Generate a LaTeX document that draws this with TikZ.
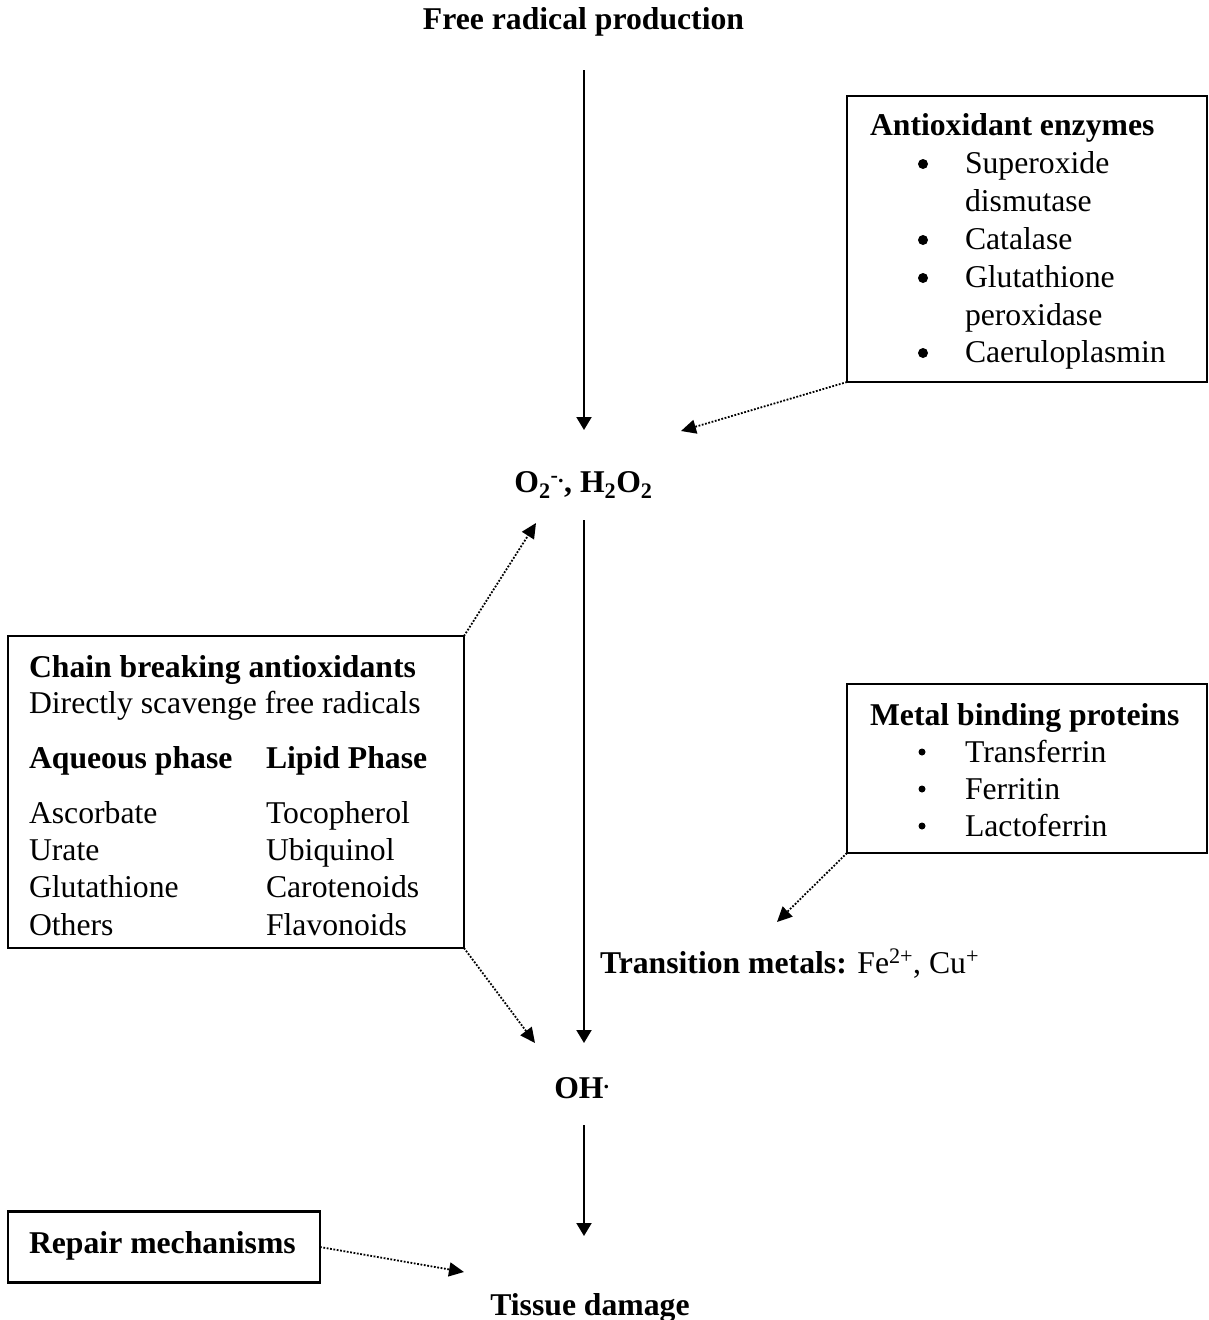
\documentclass[tikz,border=0pt]{standalone}
\usepackage{fontspec}
\setmainfont{Liberation Serif}
\usetikzlibrary{arrows.meta}
\newcommand\figfs{\fontsize{31.7}{37}\selectfont}
\tikzset{
  lbl/.style={inner sep=0pt, outer sep=0pt, font=\figfs, text height=22pt, text depth=7pt},
  boxnode/.style={draw, line width=2.4pt, inner sep=0pt, outer sep=0pt},
  solidarr/.style={line width=2pt, -{Triangle[length=13pt,width=15pt]}},
  dotarr/.style={line width=1.8pt, dash pattern=on 1.8pt off 1.6pt, -{Triangle[length=15pt,width=14pt]}},
  bul/.style={circle, fill, inner sep=0pt, outer sep=0pt}
}
\begin{document}
\begin{tikzpicture}[x=1pt,y=-1pt]
\useasboundingbox (0,0) rectangle (1209,1320);

% main chain labels
\node[lbl, anchor=base] (free) at (583.5,29) {\textbf{Free radical production}};
\node[lbl, anchor=base] (o2) at (583.5,492) {\textbf{O\textsubscript{2}\textsuperscript{-.}, H\textsubscript{2}O\textsubscript{2}}};
\node[lbl, anchor=base] (oh) at (582,1098) {\textbf{OH\textsuperscript{.}}};
\node[lbl, anchor=base] (tissue) at (590,1315) {\textbf{Tissue damage}};
\node[lbl, anchor=base west] (trans) at (600,973) {\textbf{Transition metals:} Fe\textsuperscript{2+}, Cu\textsuperscript{+}};

% main arrows
\draw[solidarr, shorten <=34pt, shorten >=40pt] (free.south -| 584,0) -- (o2.north -| 584,0);
\draw[solidarr, shorten <=21pt, shorten >=33pt] (o2.south -| 584,0) -- (oh.north -| 584,0);
\draw[solidarr, shorten <=20pt, shorten >=57pt] (oh.south -| 584,0) -- (tissue.north -| 584,0);

% Antioxidant enzymes box
\node[boxnode, minimum width=360pt, minimum height=286pt] (enz) at (1027,239) {};
\node[lbl, anchor=base west] (enzt) at (870,135) {\textbf{Antioxidant enzymes}};
\node[bul, minimum size=10pt] (eb1) at (923,164) {};
\node[bul, minimum size=10pt] (eb2) at (923,240) {};
\node[bul, minimum size=10pt] (eb3) at (923,278) {};
\node[bul, minimum size=10pt] (eb4) at (923,353) {};
\node[lbl, anchor=base west] (e1) at (965,173) {Superoxide};
\node[lbl, anchor=base west] (e1b) at (965,211) {dismutase};
\node[lbl, anchor=base west] (e2) at (965,249) {Catalase};
\node[lbl, anchor=base west] (e3) at (965,287) {Glutathione};
\node[lbl, anchor=base west] (e3b) at (965,325) {peroxidase};
\node[lbl, anchor=base west] (e4) at (965,362) {Caeruloplasmin};
\coordinate (t1) at (681,431);
\draw[dotarr] (enz.south west) -- (t1);

% Chain breaking antioxidants box
\node[boxnode, minimum width=456pt, minimum height=312pt] (chain) at (236,792) {};
\node[lbl, anchor=base west] (ct) at (29,677) {\textbf{Chain breaking antioxidants}};
\node[lbl, anchor=base west] (cd) at (29,713) {Directly scavenge free radicals};
\node[lbl, anchor=base west] (caq) at (29,768) {\textbf{Aqueous phase}};
\node[lbl, anchor=base west] (cli) at (266,768) {\textbf{Lipid Phase}};
\node[lbl, anchor=base west] (a1) at (29,823) {Ascorbate};
\node[lbl, anchor=base west] (a2) at (29,860) {Urate};
\node[lbl, anchor=base west] (a3) at (29,897) {Glutathione};
\node[lbl, anchor=base west] (a4) at (29,935) {Others};
\node[lbl, anchor=base west] (l1) at (266,823) {Tocopherol};
\node[lbl, anchor=base west] (l2) at (266,860) {Ubiquinol};
\node[lbl, anchor=base west] (l3) at (266,897) {Carotenoids};
\node[lbl, anchor=base west] (l4) at (266,935) {Flavonoids};
\coordinate (t2) at (536,523);
\coordinate (t3) at (535,1043);
\draw[dotarr] (chain.north east) -- (t2);
\draw[dotarr] (chain.south east) -- (t3);

% Metal binding proteins box
\node[boxnode, minimum width=360pt, minimum height=169pt] (metal) at (1027,768.5) {};
\node[lbl, anchor=base west] (mt) at (870,725) {\textbf{Metal binding proteins}};
\node[bul, minimum size=7pt] (mb1) at (922,752) {};
\node[bul, minimum size=7pt] (mb2) at (922,789) {};
\node[bul, minimum size=7pt] (mb3) at (922,826) {};
\node[lbl, anchor=base west] (m1) at (965,762) {Transferrin};
\node[lbl, anchor=base west] (m2) at (965,799) {Ferritin};
\node[lbl, anchor=base west] (m3) at (965,836) {Lactoferrin};
\coordinate (t4) at (777,922);
\draw[dotarr] (metal.south west) -- (t4);

% Repair mechanisms box
\node[boxnode, minimum width=312pt, minimum height=71pt] (repair) at (164,1247) {};
\node[lbl, anchor=base west] (rt) at (29,1253) {\textbf{Repair mechanisms}};
\coordinate (t5) at (464,1272);
\draw[dotarr] (repair.east) -- (t5);
\end{tikzpicture}
\end{document}
